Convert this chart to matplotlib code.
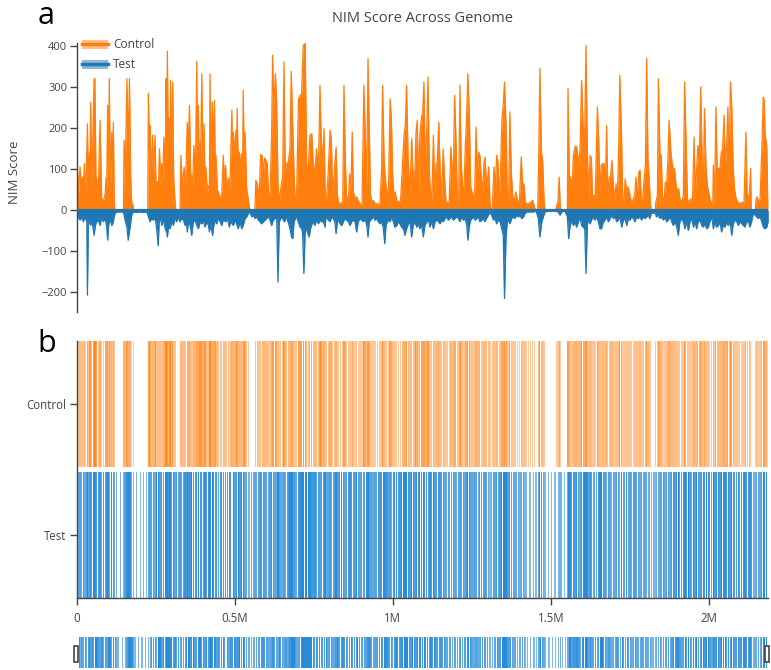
import numpy as np
import matplotlib
matplotlib.use("Agg")
import matplotlib.pyplot as plt
from matplotlib.patches import Rectangle
from matplotlib.lines import Line2D
from matplotlib.colors import to_rgba

plt.rcParams['font.family'] = ['Open Sans', 'DejaVu Sans']

# ---- NIM score tracks (genomic position in kb, score) ----
control_kb = [
    0.5, 1, 5, 9.5, 14, 18, 20, 23, 28, 33,
    36, 39, 41, 43, 47, 54, 55, 57, 60, 62,
    67, 73, 78, 83, 89, 92, 94, 97, 100, 102,
    106, 110, 113, 115, 118, 120, 147, 149, 153, 158,
    162, 166, 170, 173, 178, 180, 224, 226, 229, 231,
    235, 239, 243, 247, 250, 254, 257, 261, 265, 268,
    271, 275, 280, 282, 284, 286, 289, 292, 294, 296,
    299, 303, 306, 310, 313, 326, 329, 333, 339, 343,
    349, 352, 356, 360, 363, 366, 370, 375, 379, 381,
    384, 387, 389, 391, 395, 398, 402, 405, 408, 413,
    416, 419, 421, 424, 428, 432, 435, 438, 440, 444,
    447, 453, 458, 463, 466, 470, 474, 479, 484, 490,
    492, 495, 499, 503, 505, 507, 510, 514, 518, 521,
    524, 526, 529, 532, 537, 542, 547, 563, 566, 571,
    576, 581, 586, 590, 594, 598, 602, 607, 611, 616,
    619, 623, 628, 632, 636, 640, 645, 651, 655, 659,
    663, 669, 674, 678, 683, 687, 691, 695, 701, 706,
    711, 716, 722, 727, 732, 737, 743, 748, 753, 758,
    764, 769, 772, 777, 782, 786, 790, 795, 801, 805,
    809, 814, 820, 824, 828, 834, 841, 845, 849, 853,
    859, 863, 867, 871, 875, 880, 885, 890, 896, 902,
    908, 912, 917, 921, 925, 929, 934, 938, 943, 950,
    959, 964, 967, 972, 976, 980, 986, 991, 995, 999,
    1003, 1007, 1012, 1018, 1024, 1031, 1035, 1039, 1043, 1048,
    1054, 1059, 1064, 1070, 1073, 1077, 1081, 1085, 1091, 1094,
    1098, 1102, 1107, 1111, 1115, 1119, 1123, 1128, 1132, 1136,
    1140, 1145, 1149, 1154, 1159, 1164, 1168, 1172, 1178, 1183,
    1187, 1191, 1195, 1199, 1204, 1208, 1212, 1216, 1220, 1225,
    1229, 1233, 1237, 1242, 1246, 1250, 1254, 1258, 1263, 1267,
    1271, 1275, 1280, 1284, 1288, 1292, 1296, 1303, 1307, 1310,
    1313, 1315, 1320, 1324, 1328, 1332, 1337, 1341, 1345, 1349,
    1353, 1358, 1362, 1366, 1370, 1375, 1379, 1383, 1389, 1394,
    1400, 1406, 1410, 1415, 1419, 1423, 1429, 1436, 1442, 1448,
    1452, 1458, 1461, 1465, 1470, 1474, 1478, 1481, 1514, 1518,
    1522, 1526, 1529, 1532, 1552, 1554, 1558, 1563, 1567, 1571,
    1575, 1579, 1583, 1588, 1592, 1597, 1602, 1607, 1611, 1615,
    1619, 1624, 1628, 1632, 1636, 1640, 1647, 1651, 1655, 1659,
    1664, 1668, 1672, 1676, 1680, 1685, 1689, 1693, 1697, 1702,
    1706, 1710, 1714, 1718, 1723, 1727, 1731, 1735, 1740, 1744,
    1748, 1752, 1756, 1761, 1765, 1769, 1773, 1778, 1782, 1786,
    1790, 1794, 1799, 1803, 1807, 1811, 1815, 1818, 1830, 1832,
    1837, 1840, 1845, 1849, 1853, 1858, 1862, 1866, 1870, 1874,
    1879, 1883, 1887, 1891, 1896, 1900, 1904, 1908, 1915, 1919,
    1923, 1927, 1932, 1936, 1940, 1944, 1948, 1953, 1957, 1961,
    1965, 1969, 1974, 1978, 1982, 1986, 1991, 1995, 1999, 2003,
    2007, 2010, 2012, 2014, 2018, 2022, 2026, 2031, 2035, 2039,
    2043, 2048, 2052, 2056, 2060, 2064, 2068, 2072, 2077, 2081,
    2086, 2092, 2098, 2105, 2111, 2117, 2121, 2128, 2132, 2134,
    2147, 2149, 2153, 2157, 2162, 2167, 2172, 2175, 2178, 2183,
    2187,
]
control_score = [
    20, 106, 40, 106, 60, 81, 45, 114, 40, 211,
    60, 140, 40, 264, 60, 321, 120, 321, 70, 80,
    40, 220, 30, 20, 40, 80, 50, 256, 90, 321,
    60, 191, 80, 215, 20, 0, 0, 171, 100, 321,
    150, 321, 80, 20, 10, 0, 0, 285, 150, 207,
    80, 183, 90, 183, 60, 70, 40, 150, 60, 114,
    70, 179, 100, 321, 150, 388, 160, 224, 130, 317,
    120, 313, 80, 25, 0, 0, 134, 60, 105, 50,
    214, 150, 256, 80, 85, 60, 158, 100, 363, 150,
    256, 100, 165, 120, 333, 120, 211, 80, 105, 40,
    60, 60, 333, 120, 264, 150, 268, 80, 134, 50,
    45, 28, 40, 134, 70, 110, 50, 78, 50, 244,
    150, 191, 130, 195, 130, 248, 120, 142, 100, 138,
    80, 293, 140, 191, 53, 28, 0, 0, 73, 65,
    20, 136, 134, 93, 128, 122, 114, 28, 45, 183,
    378, 256, 333, 264, 69, 20, 53, 85, 362, 93,
    114, 118, 150, 339, 199, 85, 20, 37, 272, 280,
    285, 402, 407, 110, 102, 183, 187, 110, 93, 150,
    93, 305, 203, 102, 199, 24, 28, 93, 195, 175,
    37, 93, 154, 37, 20, 16, 20, 305, 126, 33,
    28, 89, 49, 191, 45, 28, 33, 24, 16, 12,
    305, 199, 57, 370, 199, 37, 20, 24, 16, 16,
    16, 102, 305, 122, 77, 45, 53, 272, 224, 85,
    37, 45, 24, 20, 24, 122, 183, 207, 305, 126,
    37, 175, 77, 102, 191, 220, 37, 183, 232, 236,
    313, 102, 199, 325, 93, 41, 28, 183, 45, 110,
    118, 215, 102, 28, 150, 69, 20, 20, 20, 154,
    110, 77, 280, 183, 24, 28, 305, 118, 61, 53,
    158, 224, 333, 224, 57, 45, 37, 20, 203, 85,
    142, 134, 77, 45, 118, 130, 53, 106, 20, 0,
    0, 20, 106, 45, 134, 118, 28, 114, 224, 256,
    313, 207, 24, 20, 240, 85, 37, 20, 45, 24,
    20, 130, 69, 61, 20, 16, 16, 20, 24, 8,
    0, 0, 118, 346, 142, 118, 28, 0, 0, 12,
    20, 81, 16, 0, 0, 297, 85, 77, 53, 134,
    150, 158, 146, 110, 150, 317, 199, 199, 402, 158,
    28, 134, 126, 20, 37, 28, 252, 175, 45, 110,
    114, 114, 37, 207, 45, 81, 85, 122, 69, 20,
    65, 28, 130, 329, 199, 28, 20, 77, 45, 57,
    45, 28, 20, 28, 37, 81, 28, 93, 98, 28,
    20, 69, 110, 370, 126, 77, 16, 0, 0, 20,
    37, 321, 138, 134, 37, 20, 69, 61, 118, 220,
    150, 118, 102, 102, 61, 45, 53, 28, 20, 37,
    313, 191, 28, 20, 24, 28, 24, 179, 45, 102,
    158, 110, 301, 142, 37, 248, 102, 61, 45, 28,
    20, 0, 0, 110, 20, 252, 102, 102, 102, 142,
    146, 232, 106, 158, 252, 85, 313, 260, 102, 53,
    28, 20, 16, 20, 16, 191, 37, 37, 102, 0,
    0, 28, 33, 20, 28, 142, 276, 268, 183, 158,
    20,
]

test_kb = [
    0.5, 1, 5, 9.5, 15, 20, 25, 31, 33, 36,
    39, 43, 47, 54, 58, 62, 67, 73, 78, 83,
    89, 94, 97, 100, 104, 110, 115, 118, 124, 137,
    147, 152, 158, 162, 168, 173, 178, 189, 200, 210,
    221, 226, 231, 236, 242, 247, 252, 257, 260, 265,
    268, 274, 279, 284, 286, 290, 294, 300, 305, 310,
    316, 321, 326, 331, 337, 342, 347, 349, 353, 358,
    363, 368, 374, 379, 384, 390, 395, 400, 405, 411,
    416, 419, 423, 429, 433, 438, 442, 447, 453, 458,
    463, 471, 476, 482, 486, 495, 500, 505, 510, 516,
    521, 526, 532, 537, 542, 547, 553, 558, 563, 569,
    574, 579, 584, 590, 595, 600, 606, 611, 616, 621,
    627, 632, 636, 640, 645, 649, 653, 657, 661, 666,
    670, 674, 679, 683, 687, 691, 695, 700, 706, 711,
    714, 718, 722, 727, 732, 735, 739, 744, 748, 753,
    758, 764, 769, 774, 780, 785, 788, 792, 796, 801,
    806, 811, 816, 820, 824, 828, 832, 838, 843, 848,
    853, 859, 864, 869, 874, 880, 885, 890, 896, 901,
    906, 911, 917, 921, 925, 929, 934, 938, 943, 948,
    954, 959, 964, 969, 974, 978, 982, 986, 991, 996,
    1001, 1006, 1012, 1017, 1022, 1027, 1033, 1038, 1043, 1049,
    1054, 1059, 1064, 1070, 1075, 1080, 1085, 1091, 1096, 1101,
    1107, 1112, 1117, 1122, 1128, 1133, 1138, 1144, 1149, 1154,
    1159, 1165, 1170, 1175, 1180, 1186, 1191, 1196, 1201, 1207,
    1212, 1217, 1223, 1228, 1233, 1237, 1242, 1246, 1250, 1254,
    1260, 1265, 1270, 1275, 1281, 1286, 1291, 1296, 1302, 1307,
    1312, 1318, 1323, 1328, 1333, 1339, 1344, 1349, 1353, 1358,
    1362, 1366, 1370, 1376, 1381, 1386, 1391, 1397, 1402, 1407,
    1413, 1418, 1423, 1434, 1444, 1453, 1460, 1465, 1471, 1476,
    1481, 1492, 1502, 1513, 1523, 1529, 1534, 1544, 1552, 1556,
    1560, 1565, 1571, 1576, 1581, 1587, 1592, 1597, 1602, 1607,
    1611, 1615, 1619, 1624, 1628, 1634, 1639, 1645, 1650, 1655,
    1660, 1666, 1671, 1676, 1682, 1687, 1692, 1697, 1703, 1708,
    1713, 1718, 1724, 1729, 1734, 1740, 1745, 1750, 1755, 1761,
    1766, 1771, 1776, 1782, 1787, 1792, 1798, 1803, 1808, 1813,
    1819, 1824, 1829, 1834, 1840, 1845, 1850, 1856, 1861, 1866,
    1871, 1877, 1882, 1887, 1893, 1898, 1903, 1908, 1914, 1919,
    1924, 1929, 1935, 1940, 1945, 1951, 1956, 1961, 1966, 1972,
    1977, 1982, 1987, 1993, 1998, 2003, 2009, 2014, 2019, 2024,
    2030, 2035, 2040, 2045, 2051, 2056, 2061, 2067, 2072, 2077,
    2082, 2088, 2093, 2098, 2104, 2109, 2114, 2119, 2125, 2130,
    2135, 2140, 2146, 2151, 2156, 2162, 2167, 2172, 2177, 2183,
    2188,
]
test_score = [
    -10, -24, -12, -24, -16, -28, -16, -28, -207, -20,
    -28, -37, -24, -61, -37, -28, -24, -37, -16, -28,
    -20, -41, -73, -37, -20, -37, -28, -12, -4, -4,
    -4, -24, -41, -73, -41, -12, -4, -5, -4, -5,
    -4, -16, -28, -20, -24, -16, -45, -87, -28, -20,
    -37, -24, -45, -53, -65, -37, -45, -28, -37, -20,
    -28, -16, -28, -20, -24, -37, -33, -53, -28, -37,
    -61, -28, -24, -37, -45, -28, -33, -24, -41, -28,
    -37, -53, -33, -61, -37, -24, -33, -20, -28, -37,
    -24, -28, -20, -41, -28, -37, -24, -33, -45, -28,
    -45, -37, -20, -16, -8, -4, -16, -12, -20, -16,
    -24, -28, -33, -28, -24, -20, -16, -24, -37, -24,
    -20, -16, -175, -28, -20, -16, -24, -28, -16, -24,
    -33, -45, -65, -69, -28, -20, -16, -28, -41, -45,
    -57, -154, -53, -45, -61, -65, -45, -33, -28, -37,
    -24, -33, -24, -28, -28, -41, -16, -20, -24, -28,
    -16, -20, -28, -57, -28, -24, -33, -37, -28, -20,
    -24, -28, -37, -28, -24, -28, -53, -28, -20, -24,
    -28, -20, -37, -65, -28, -24, -20, -16, -24, -20,
    -28, -33, -28, -41, -81, -37, -28, -24, -28, -16,
    -28, -41, -37, -28, -33, -41, -45, -61, -45, -33,
    -28, -65, -37, -28, -41, -33, -45, -37, -65, -37,
    -28, -24, -41, -28, -45, -28, -24, -28, -33, -24,
    -28, -20, -16, -24, -20, -16, -24, -20, -16, -20,
    -28, -16, -24, -20, -33, -73, -37, -24, -20, -16,
    -24, -20, -16, -28, -24, -20, -28, -20, -12, -4,
    -12, -24, -20, -33, -24, -28, -45, -61, -215, -61,
    -28, -24, -33, -20, -16, -20, -12, -16, -12, -20,
    -16, -8, -4, -4, -4, -2, -20, -65, -28, -16,
    -4, -2, -2, -2, -4, -12, -4, -2, -16, -69,
    -41, -24, -37, -28, -41, -28, -16, -37, -41, -45,
    -154, -37, -20, -33, -24, -16, -24, -16, -28, -45,
    -45, -28, -24, -16, -28, -20, -12, -20, -16, -28,
    -24, -16, -41, -24, -20, -37, -20, -24, -16, -20,
    -28, -16, -20, -16, -24, -16, -20, -16, -12, -20,
    -4, -8, -4, -16, -12, -20, -16, -24, -16, -28,
    -24, -16, -28, -37, -28, -41, -61, -28, -20, -28,
    -45, -28, -49, -28, -20, -41, -28, -45, -28, -24,
    -37, -41, -33, -45, -41, -28, -16, -45, -28, -41,
    -37, -28, -53, -37, -41, -28, -37, -28, -61, -33,
    -24, -28, -37, -28, -33, -37, -41, -28, -28, -41,
    -28, -8, -12, -16, -20, -16, -28, -41, -45, -41,
    -28,
]

track_names = ["Test", "Control"]
x_tick_values = [0, 500_000, 1_000_000, 1_500_000, 2_000_000]
x_tick_labels = ["0", "0.5M", "1M", "1.5M", "2M"]
y_tick_values = [-200, -100, 0, 100, 200, 300, 400]
genome_length = 2_187_000

ORANGE = "#ff7f0e"
BLUE = "#1f77b4"
BAR_BLUE = "#2389d8"
AXIS_GREY = "#444444"

cx = np.array(control_kb) * 1000.0
cy = np.array(control_score, dtype=float)
tx = np.array(test_kb) * 1000.0
ty = np.array(test_score, dtype=float)

W, H = 771, 670
fig = plt.figure(figsize=(W / 100, H / 100), dpi=100)


def box(x0, y0, x1, y1):
    """Axes rectangle from pixel edges measured from the top-left corner."""
    return [x0 / W, 1 - y1 / H, (x1 - x0) / W, (y1 - y0) / H]


# ---- panel a: score profile ----
ax_a = fig.add_axes(box(77, 43, 768, 312))
ax_a.fill_between(cx, 0, cy, color=ORANGE, lw=0)
ax_a.plot(cx, cy, color=ORANGE, lw=0.9)
ax_a.fill_between(tx, 0, ty, color=BLUE, lw=0)
ax_a.plot(tx, ty, color=BLUE, lw=0.9)
ax_a.axhline(0, color=BLUE, lw=1.6, zorder=3)
ax_a.set_xlim(0, genome_length)
ax_a.set_ylim(-248, 408)
ax_a.set_yticks(y_tick_values)
ax_a.set_xticks([])
for s in ("top", "right", "bottom"):
    ax_a.spines[s].set_visible(False)
ax_a.spines["left"].set_color(AXIS_GREY)
ax_a.spines["left"].set_linewidth(1)
ax_a.tick_params(axis="y", direction="out", length=5, width=1, color=AXIS_GREY,
                 labelcolor=AXIS_GREY, labelsize=8, pad=2)


def strip_colors(values, base, lo, hi, scale):
    r, g, b, _ = to_rgba(base)
    a = lo + (hi - lo) * np.clip(np.abs(values) / scale, 0, 1)
    return [(r, g, b, ai) for ai in a]


# ---- panel b: site strips ----
ax_b = fig.add_axes(box(77, 341, 768, 598))
cmask = cy > 0
tmask = ty != 0
ax_b.bar(cx[cmask], 0.96, width=3900, bottom=1 - 0.48,
         color=strip_colors(cy[cmask], ORANGE, 0.4, 0.78, 320), lw=0)
ax_b.bar(tx[tmask], 0.96, width=3900, bottom=0 - 0.48,
         color=strip_colors(ty[tmask], BAR_BLUE, 0.55, 0.98, 45), lw=0)
ax_b.set_xlim(0, genome_length)
ax_b.set_ylim(-0.48, 1.48)
ax_b.set_yticks([0, 1])
ax_b.set_yticklabels(track_names)
ax_b.set_xticks(x_tick_values)
ax_b.set_xticklabels(x_tick_labels)
for s in ("top", "right"):
    ax_b.spines[s].set_visible(False)
for s in ("left", "bottom"):
    ax_b.spines[s].set_color(AXIS_GREY)
    ax_b.spines[s].set_linewidth(1)
ax_b.tick_params(direction="out", length=5, width=1, color=AXIS_GREY,
                 labelcolor=AXIS_GREY, labelsize=8.3)
ax_b.tick_params(axis="x", pad=5)
ax_b.tick_params(axis="y", pad=3)

# ---- range slider overview ----
ax_s = fig.add_axes(box(79, 637, 768, 668))
ax_s.bar(tx[tmask], 1.0, width=3900, bottom=0,
         color=strip_colors(ty[tmask], BAR_BLUE, 0.55, 0.98, 45), lw=0)
ax_s.set_xlim(0, genome_length)
ax_s.set_ylim(0, 1)
ax_s.axis("off")
for hx in (74, 765):
    fig.add_artist(Rectangle((hx / W, 1 - 662 / H), 4 / W, 16 / H,
                             transform=fig.transFigure, facecolor="white",
                             edgecolor=AXIS_GREY, lw=1.2, zorder=5))

# ---- legend ----
for ly, col, name in ((44, ORANGE, "Control"), (64, BLUE, "Test")):
    fig.add_artist(Rectangle((82 / W, 1 - (ly + 4.5) / H), 26 / W, 9 / H,
                             transform=fig.transFigure, facecolor=col,
                             alpha=0.5, lw=0))
    fig.add_artist(Line2D([82 / W, 108 / W], [1 - ly / H, 1 - ly / H],
                          transform=fig.transFigure, color=col, lw=2.5))
    fig.text(113 / W, 1 - ly / H, name, fontsize=8.6, color=AXIS_GREY,
             ha="left", va="center")

# ---- titles and panel letters ----
fig.text(422 / W, 1 - 18 / H, "NIM Score Across Genome", fontsize=10.5,
         color=AXIS_GREY, ha="center", va="center")
fig.text(15 / W, 1 - 172 / H, "NIM Score", fontsize=9.5, color=AXIS_GREY,
         rotation=90, ha="center", va="center")
fig.text(46 / W, 1 - 16 / H, "a", fontsize=22, color="black",
         ha="center", va="center")
fig.text(47 / W, 1 - 344 / H, "b", fontsize=22, color="black",
         ha="center", va="center")

fig.savefig("out.png", dpi=100)
